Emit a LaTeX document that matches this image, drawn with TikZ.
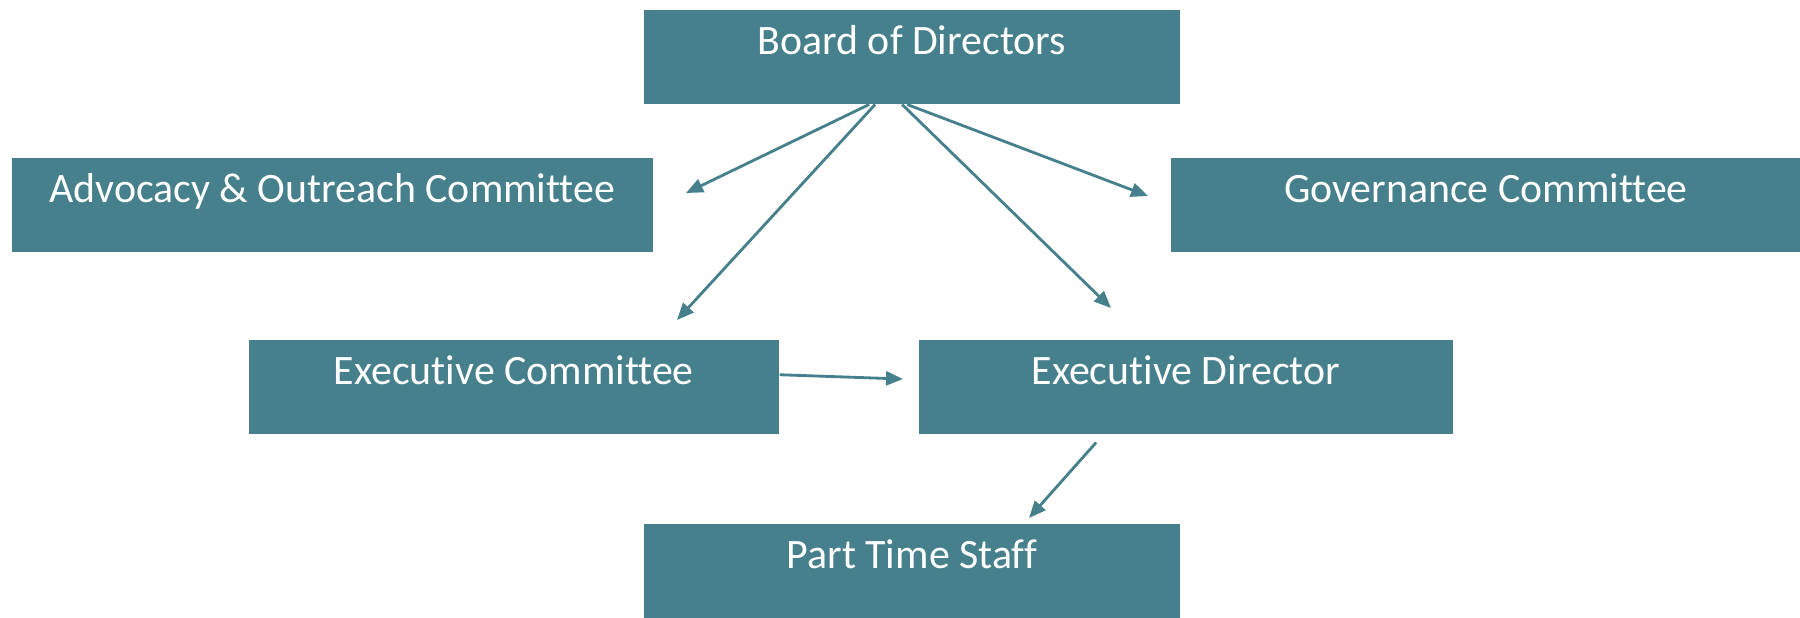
\documentclass[tikz,border=0pt]{standalone}
\usepackage{fontspec}
\setmainfont{Carlito}[Ligatures=NoCommon]
\usetikzlibrary{positioning,arrows.meta}

\definecolor{boardteal}{RGB}{69,128,140}

\begin{document}
\begin{tikzpicture}[x=0.01cm,y=-0.01cm,
    orgbox/.style={fill=boardteal, text=white, anchor=north west,
        inner xsep=0pt, inner ysep=0.15cm, text height=0.3cm, text depth=0.34cm,
        font=\fontsize{11.9}{14}\selectfont},
    orgarrow/.style={draw=boardteal, line width=0.8pt,
        -{Triangle[length=0.17cm,width=0.14cm]}}]

    \useasboundingbox (0,0) rectangle (1800,617);

    % the boxes
    \node[orgbox, minimum width=5.36cm] (board) at (643,9) {Board of Directors};
    \node[orgbox, minimum width=6.41cm] (advocacy) at (11,157) {Advocacy \& Outreach Committee};
    \node[orgbox, minimum width=6.30cm] (governance) at (1170,157) {Governance Committee};
    \node[orgbox, minimum width=5.30cm] (execcom) at (248,339) {Executive Committee};
    \node[orgbox, minimum width=5.34cm] (execdir) at (918,339) {Executive Director};
    \node[orgbox, minimum width=5.36cm] (staff) at (643,523) {Part Time Staff};

    % where the arrows stop
    \coordinate (advtip) at (686,193);
    \coordinate (ectip) at (677,320);
    \coordinate (govtip) at (1148,196);
    \coordinate (edtip) at (1111,308);
    \coordinate (edside) at (903,379);
    \coordinate (stafftip) at (1029,518);

    % the arrows
    \draw[orgarrow] ([xshift=2.26cm]board.south west) -- (advtip);
    \draw[orgarrow] ([xshift=2.32cm]board.south west) -- (ectip);
    \draw[orgarrow] ([xshift=2.64cm]board.south west) -- (govtip);
    \draw[orgarrow] ([xshift=2.59cm]board.south west) -- (edtip);
    \draw[orgarrow] ([yshift=0.12cm]execcom.east) -- (edside);
    \draw[orgarrow] ([xshift=1.78cm,yshift=-0.08cm]execdir.south west) -- (stafftip);

\end{tikzpicture}
\end{document}
